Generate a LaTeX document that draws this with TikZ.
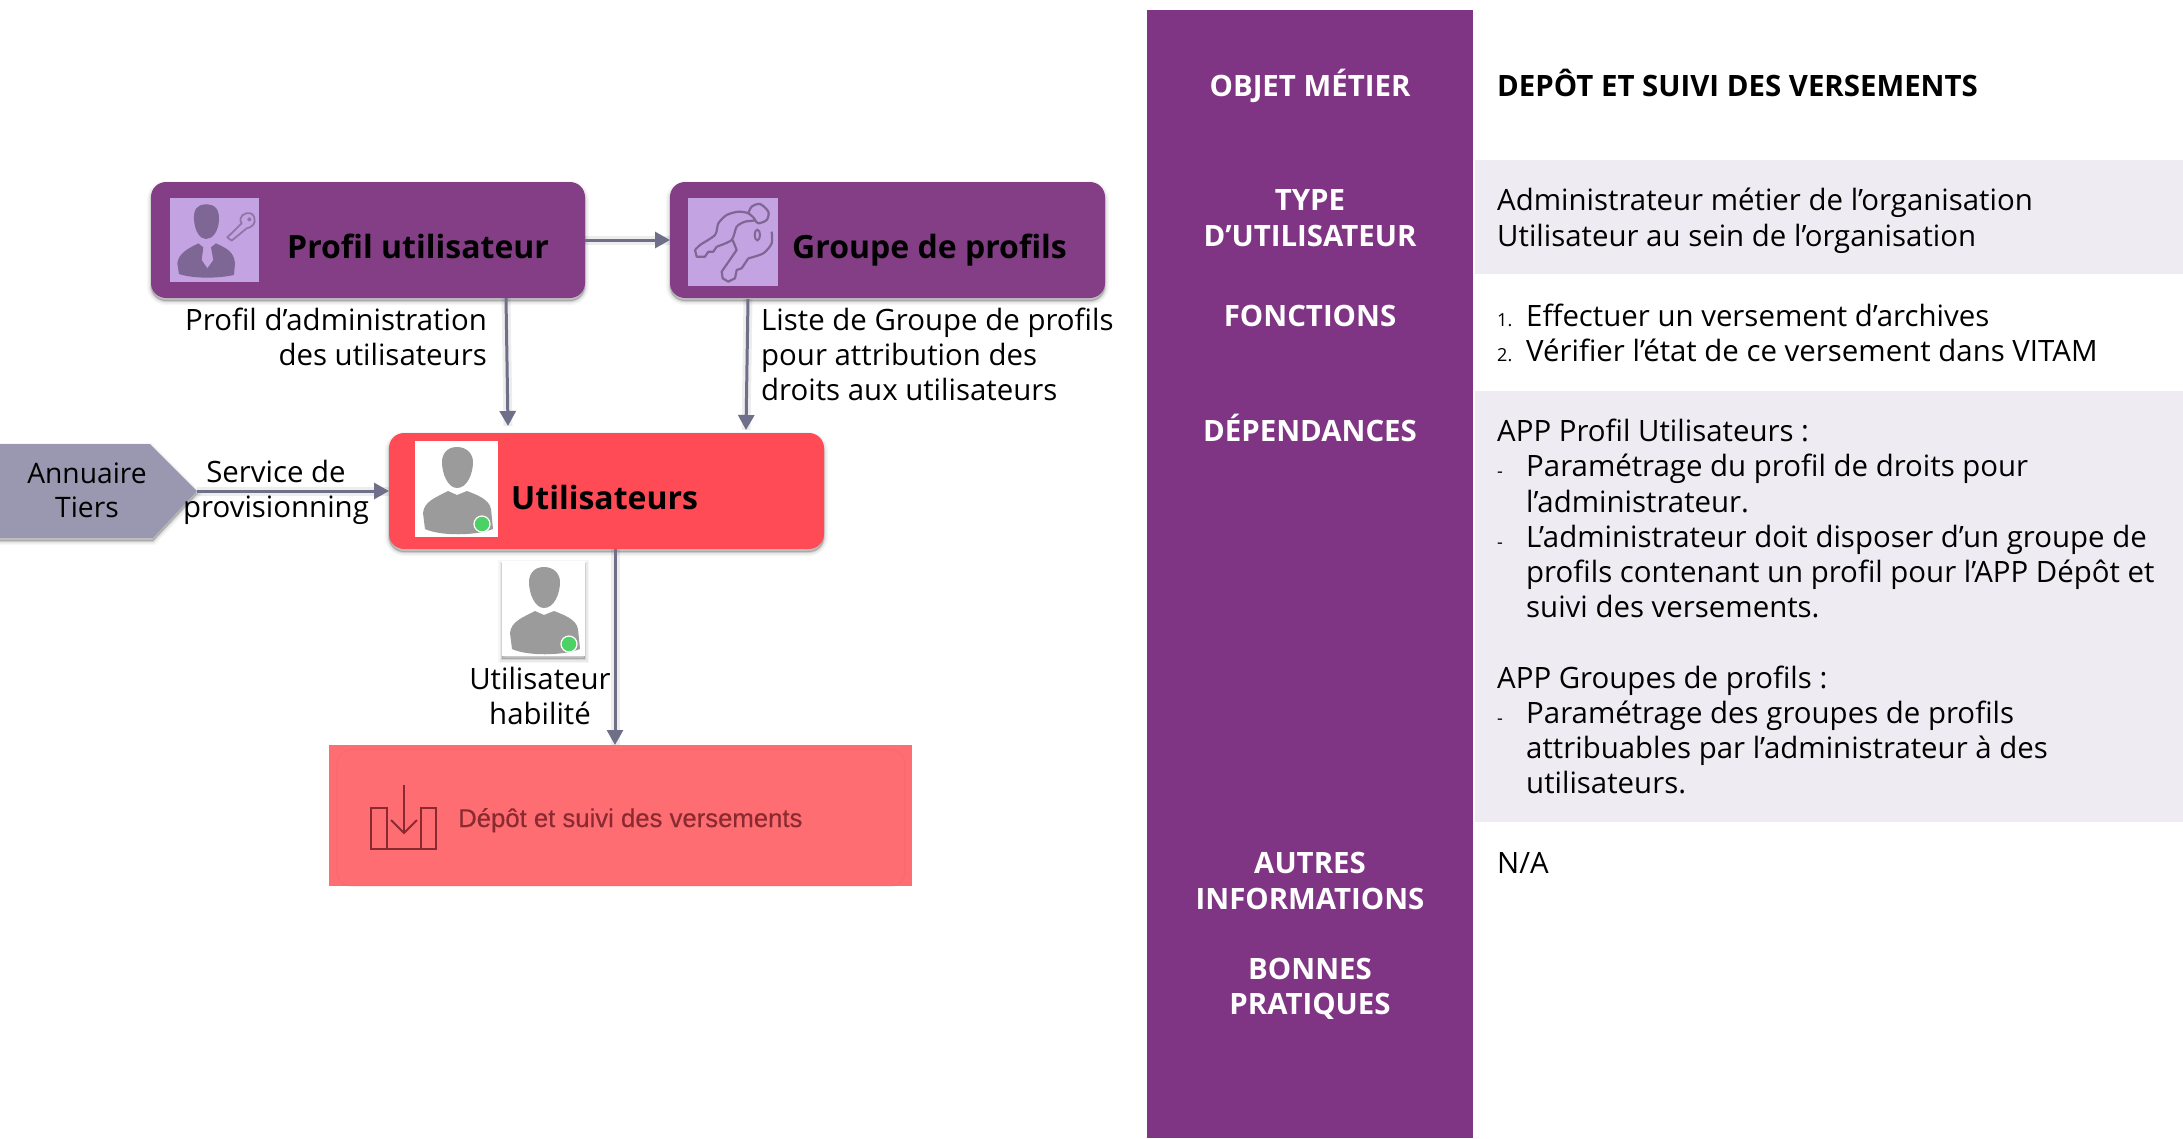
\documentclass[tikz,border=0pt]{standalone}
\usepackage{fontspec}
\setmainfont{Open Sans}
\newfontfamily\depotfont[FakeBold=0.3,Ligatures=TeX]{Liberation Sans}
\usetikzlibrary{arrows.meta,shadows}
\definecolor{panel}{HTML}{7F3584}
\definecolor{boxpurple}{HTML}{843E85}
\definecolor{band}{HTML}{EFEBF2}
\definecolor{redbox}{HTML}{FF4B55}
\definecolor{depot}{HTML}{FD6D72}
\definecolor{conn}{HTML}{6F6F8A}
\definecolor{tag}{HTML}{9A97B0}
\definecolor{iconbg}{HTML}{C4A3E2}
\definecolor{iconfg}{HTML}{7F6795}
\definecolor{persongray}{HTML}{9B9B9B}
\definecolor{dot}{HTML}{4CD264}
\definecolor{depotink}{HTML}{8A2A30}
\tikzset{
  softshadow/.style={
    general shadow={fill=black,draw=black,line width=8pt,opacity=.035,shadow yshift=-3pt},
    general shadow={fill=black,draw=black,line width=5pt,opacity=.05,shadow yshift=-3pt},
    general shadow={fill=black,draw=black,line width=2pt,opacity=.10,shadow yshift=-3pt}},
  rbox/.style={rounded corners=15pt,inner sep=0pt,outer sep=0pt,softshadow},
  conn/.style={draw=conn,line width=3pt,-{Triangle[length=15pt,width=16pt]},
    preaction={draw=black,opacity=.07,line width=9pt,-}},
  boxtitle/.style={anchor=base west,inner sep=0pt,font=\fontsize{32}{38}\selectfont\bfseries,text=black},
  lbl/.style={inner sep=0pt,font=\fontsize{29.4}{35}\selectfont,text=black},
  head/.style={anchor=base,inner sep=0pt,align=center,font=\fontsize{29.4}{35}\selectfont\bfseries,text=white},
  body/.style={anchor=base west,inner sep=0pt,align=left,font=\fontsize{29.4}{35}\selectfont,text=black},
  marker/.style={anchor=base west,inner sep=0pt,font=\fontsize{18}{20}\selectfont,text=black},
}
\newcommand{\personicon}[1]{%
  \begin{scope}[shift={#1}]
    \fill[persongray] (42,6) .. controls (32,6) and (27,13) .. (27,21)
      .. controls (27,33) and (33,47) .. (42,47)
      .. controls (52,47) and (58,33) .. (58,21)
      .. controls (58,13) and (52,6) .. (42,6) -- cycle;
    \fill[persongray] (33,50) -- (42,54) -- (52,50) .. controls (62,54) and (74,58) .. (76,68)
      -- (78,88) .. controls (60,95) and (25,95) .. (10,88)
      -- (8,72) .. controls (9,60) and (22,56) .. (33,50) -- cycle;
    \fill[dot,draw=white,line width=1.2pt] (67,83) circle (8);
  \end{scope}}
\begin{document}
\begin{tikzpicture}[x=1pt,y=-1pt]
\useasboundingbox (0,0) rectangle (2183,1138);
\fill[white] (0,0) rectangle (2183,1138);

% ---------- right table
\fill[panel] (1147,10) rectangle (1473,1138);
\fill[band] (1475,160) rectangle (2183,274);
\fill[band] (1475,391) rectangle (2183,822);

\node[head] (h1) at (1310,96) {OBJET MÉTIER};
\node[head] (h2a) at (1310,210.5) {TYPE};
\node[head] (h2b) at (1310,246) {D’UTILISATEUR};
\node[head] (h3) at (1310,326) {FONCTIONS};
\node[head] (h4) at (1310,441.5) {DÉPENDANCES};
\node[head] (h5a) at (1310,873.5) {AUTRES};
\node[head] (h5b) at (1310,909) {INFORMATIONS};
\node[head] (h6a) at (1310,979) {BONNES};
\node[head] (h6b) at (1310,1014) {PRATIQUES};

\node[body,font=\fontsize{29.4}{35}\selectfont\bfseries] (t1) at (1497,96) {DEPÔT ET SUIVI DES VERSEMENTS};
\node[body] (t2a) at (1497,210.5) {Administrateur métier de l’organisation};
\node[body] (t2b) at (1497,246) {Utilisateur au sein de l’organisation};
\node[marker] (m31) at (1497,326) {1.};
\node[body] (t31) at (1526,326) {Effectuer un versement d’archives};
\node[marker] (m32) at (1497,361) {2.};
\node[body] (t32) at (1526,361) {Vérifier l’état de ce versement dans VITAM};
\node[body] (t4) at (1497,441.5) {APP Profil Utilisateurs :};
\node[marker] (m41) at (1497,477) {-};
\node[body] (t41a) at (1526,476.5) {Paramétrage du profil de droits pour};
\node[body] (t41b) at (1526,512) {l’administrateur.};
\node[marker] (m42) at (1497,548) {-};
\node[body] (t42a) at (1526,547.5) {L’administrateur doit disposer d’un groupe de};
\node[body] (t42b) at (1526,582.5) {profils contenant un profil pour l’APP Dépôt et};
\node[body] (t42c) at (1526,617.5) {suivi des versements.};
\node[body] (t5) at (1497,688.5) {APP Groupes de profils :};
\node[marker] (m51) at (1497,724) {-};
\node[body] (t51a) at (1526,723.5) {Paramétrage des groupes de profils};
\node[body] (t51b) at (1526,758.5) {attribuables par l’administrateur à des};
\node[body] (t51c) at (1526,793.5) {utilisateurs.};
\node[body] (t6) at (1497,873.5) {N/A};

% ---------- boxes
\node[rbox,fill=boxpurple,minimum width=434pt,minimum height=116pt] (profil) at (368,240) {};
\node[rbox,fill=boxpurple,minimum width=435pt,minimum height=116pt] (groupe) at (887.5,240) {};
\node[rbox,fill=redbox,minimum width=435pt,minimum height=116pt] (users) at (606.5,491) {};
\node[inner sep=0pt,outer sep=0pt,fill=depot,minimum width=583pt,minimum height=141pt] (depotbox) at (620.5,815.5) {};
\draw[draw=depot!92!black,line width=.8pt,opacity=.35,rounded corners=14pt] (337,750) rectangle (905,886);

\fill[tag,softshadow] (-12,444) -- (150,444) -- (197,491) -- (153,538) -- (-12,538) -- cycle;
\coordinate (annuairetip) at (197,491);
\node[lbl,anchor=base,align=center,font=\fontsize{28.2}{35}\selectfont] (ann1) at (87,483) {Annuaire};
\node[lbl,anchor=base,align=center,font=\fontsize{28.2}{35}\selectfont] (ann2) at (87,517) {Tiers};

% ---------- connector ends
\coordinate (pg1) at (profil.east);
\coordinate (pg2) at (groupe.west);
\coordinate (pu1) at (506,298);
\coordinate (pu2) at (508,426);
\coordinate (gu1) at (748,299);
\coordinate (gu2) at (746,430);
\coordinate (ud1) at (615,549);
\coordinate (ud2) at (615,745);

\draw[conn] (pg1) -- (pg2);
\draw[conn] (pu1) -- (pu2);
\draw[conn] (gu1) -- (gu2);
\draw[conn] (annuairetip) -- (users.west);
\draw[conn] (ud1) -- (ud2);

% ---------- box titles
\node[boxtitle] (ptitle) at (287,258) {Profil utilisateur};
\node[boxtitle] (gtitle) at (792,258) {Groupe de profils};
\node[boxtitle] (utitle) at (511,509) {Utilisateurs};

% ---------- profil icon
\fill[iconbg] (170,198) rectangle (259,282);
\begin{scope}[shift={(130,160)},x=.33333pt,y=-.33333pt]
  \fill[iconfg] (228,133) .. controls (200,133) and (190,150) .. (192,180)
    .. controls (195,215) and (210,237) .. (228,237)
    .. controls (248,237) and (265,215) .. (267,180)
    .. controls (268,150) and (258,133) .. (228,133) -- cycle;
  \fill[iconfg] (205,250) -- (220,262) -- (215,300) -- (232,325) -- (250,300) -- (243,262) -- (258,250)
    .. controls (290,265) and (312,275) .. (315,310)
    -- (312,345) .. controls (260,356) and (190,356) .. (147,342)
    -- (142,310) .. controls (145,280) and (175,265) .. (205,250) -- cycle;
  \draw[iconfg!75!iconbg,line width=1.8pt,line join=round] (292,232) -- (335,190)
    .. controls (322,170) and (345,155) .. (362,160)
    .. controls (382,170) and (378,200) .. (350,205)
    -- (305,242) -- cycle;
  \fill[iconfg!75!iconbg] (358,178) circle (6);
\end{scope}

% ---------- groupe icon
\fill[iconbg] (688,198) rectangle (778,286);
\begin{scope}[shift={(680,190)},x=.33333pt,y=-.33333pt]
  \draw[iconfg,line width=2.2pt,line join=round] plot[smooth,tension=.45] coordinates
    {(45,180) (60,165) (105,135) (115,100) (140,75) (175,65) (205,70) (225,90) (195,95) (170,110) (155,150) (110,170)};
  \draw[iconfg,line width=2.2pt,line join=round] (110,170) -- (100,185) -- (85,185) -- (75,200) -- (50,200) -- (45,180);
  \draw[iconfg,line width=2.2pt,line join=round] plot[smooth,tension=.5] coordinates
    {(205,70) (215,50) (240,42) (265,65) (260,90) (235,100) (225,90)};
  \draw[iconfg,line width=2pt] (232,135) ellipse (8 and 16);
  \draw[iconfg,line width=2.2pt,line join=round] plot[smooth,tension=.45] coordinates
    {(275,125) (275,160) (250,190) (205,205)};
  \draw[iconfg,line width=2.2pt,line join=round] (205,205) -- (185,235) -- (170,240) -- (165,265) -- (145,275) -- (128,265) -- (125,245) -- (170,180) -- (158,150);
\end{scope}

% ---------- users icon
\fill[white] (415,441) rectangle (498,537);
\personicon{(415,441)}

% ---------- habilite icon
\fill[white,softshadow] (502,561) rectangle (585,656);
\personicon{(502,561)}

% ---------- labels
\node[lbl,anchor=base east] (lp1) at (487,330) {Profil d’administration};
\node[lbl,anchor=base east] (lp2) at (487,365) {des utilisateurs};
\node[lbl,anchor=base west] (lg1) at (761,330) {Liste de Groupe de profils};
\node[lbl,anchor=base west] (lg2) at (761,365) {pour attribution des};
\node[lbl,anchor=base west] (lg3) at (761,400) {droits aux utilisateurs};
\node[lbl,anchor=base] (ls1) at (276,482) {Service de};
\node[lbl,anchor=base] (ls2) at (276,517) {provisionning};
\node[lbl,anchor=base] (lh1) at (540,689) {Utilisateur};
\node[lbl,anchor=base] (lh2) at (540,724) {habilité};

% ---------- depot content
\begin{scope}[draw=depotink,line width=1.8pt]
  \draw (388,808) -- (371,808) -- (371,849) -- (436,849) -- (436,808) -- (420,808);
  \draw (387,808) -- (387,849) (421,808) -- (421,849);
  \draw (404,785) -- (404,833);
  \draw (391,820) -- (404,833) -- (417,820);
\end{scope}
\node[anchor=base west,inner sep=0pt,text=depotink,font=\fontsize{25.7}{30}\depotfont\selectfont] (dtext) at (458,827) {Dépôt et suivi des versements};
\end{tikzpicture}
\end{document}
